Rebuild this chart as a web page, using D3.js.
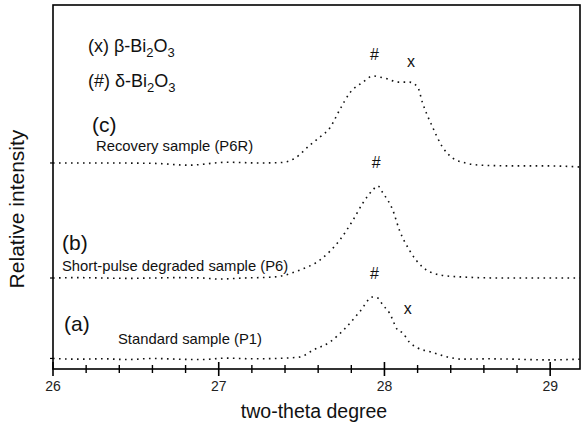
<!DOCTYPE html>
<html>
<head>
<meta charset="utf-8">
<script src="https://cdn.jsdelivr.net/npm/d3@7"></script>
<style>
  html, body { margin: 0; padding: 0; background: #fff; }
  svg { display: block; font-family: "Liberation Sans", Arial, sans-serif; }
</style>
</head>
<body>
<svg id="chart" width="582" height="428"></svg>
<script>
// ---- data (two-theta, relative intensity incl. vertical offset) ----
const seriesA = [ // (a) Standard sample (P1)
  [26.00, 2.9], [26.15, 2.7], [26.30, 2.8], [26.45, 2.6], [26.60, 2.9], [26.75, 2.7],
  [26.90, 2.6], [27.05, 3.0], [27.20, 2.8], [27.35, 2.9], [27.49, 3.3], [27.57, 5.2],
  [27.67, 7.4], [27.77, 11.5], [27.85, 15.7], [27.93, 19.8], [27.96, 19.5], [27.99, 17.6],
  [28.03, 15.4], [28.08, 10.7], [28.11, 9.9], [28.15, 7.4], [28.20, 5.8], [28.28, 4.7],
  [28.38, 3.3], [28.47, 2.7], [28.62, 2.8], [28.78, 2.7], [28.98, 2.5], [29.18, 2.7]
];
const seriesB = [ // (b) Short-pulse degraded sample (P6)
  [26.00, 25.0], [26.15, 25.1], [26.30, 25.0], [26.45, 24.9], [26.60, 25.0], [26.75, 25.1],
  [26.90, 25.0], [27.00, 24.7], [27.15, 25.0], [27.30, 25.2], [27.37, 25.5], [27.49, 27.2],
  [27.61, 29.9], [27.73, 35.4], [27.81, 40.9], [27.87, 45.6], [27.93, 49.2], [27.96, 50.3],
  [27.99, 48.4], [28.05, 43.7], [28.09, 38.2], [28.15, 32.7], [28.23, 28.0], [28.34, 25.8],
  [28.46, 25.3], [28.70, 25.0], [28.94, 25.0], [29.18, 25.0]
];
const seriesC = [ // (c) Recovery sample (P6R)
  [26.00, 56.6], [26.30, 56.6], [26.60, 56.5], [26.82, 56.0], [27.05, 56.8], [27.25, 56.6],
  [27.37, 56.7], [27.46, 57.9], [27.55, 61.5], [27.61, 63.7], [27.67, 66.2], [27.73, 71.2],
  [27.79, 75.8], [27.87, 78.8], [27.93, 80.5], [27.97, 80.2], [28.02, 79.7], [28.08, 78.8],
  [28.15, 78.8], [28.20, 77.5], [28.23, 73.1], [28.29, 66.5], [28.35, 61.0], [28.41, 58.0],
  [28.49, 56.6], [28.58, 56.0], [28.78, 55.8], [28.98, 55.8], [29.18, 55.5]
];
const baselines = [2.9, 25.0, 56.6];          // y-axis tick marks (one per trace)
const xTickLabels = [26, 27, 28, 29];
const xMinorTicks = [26.2, 26.4, 26.6, 26.8, 27.2, 27.4, 27.6, 27.8, 28.2, 28.4, 28.6, 28.8];
// peak markers: [two-theta, intensity, symbol]
const peakMarks = [
  [27.94, 85.0, "#"], [28.16, 83.0, "x"],
  [27.95, 55.3, "#"],
  [27.94, 24.8, "#"], [28.14, 15.2, "x"]
];
// sample labels: [label, letter]
const sampleLabels = [
  ["Standard sample (P1)", "(a)"],
  ["Short-pulse degraded sample (P6)", "(b)"],
  ["Recovery sample (P6R)", "(c)"]
];

// ---- layout ----
const svg = d3.select("#chart");
const M = { left: 53, right: 580, top: 5, bottom: 369 };
const x = d3.scaleLinear().domain([26, 29.18]).range([M.left, M.right]);
const y = d3.scaleLinear().domain([0, 100]).range([M.bottom, M.top]);

// frame
svg.append("rect")
  .attr("x", M.left).attr("y", M.top)
  .attr("width", M.right - M.left).attr("height", M.bottom - M.top)
  .attr("fill", "none").attr("stroke", "#000").attr("stroke-width", 1.6);

// x ticks (crossing the axis)
const g = svg.append("g");
g.selectAll("line.maj").data(xTickLabels).join("line")
  .attr("x1", d => x(d)).attr("x2", d => x(d))
  .attr("y1", M.bottom - 7).attr("y2", M.bottom + 7)
  .attr("stroke", "#000").attr("stroke-width", 1.6);
g.selectAll("line.min").data(xMinorTicks).join("line")
  .attr("x1", d => x(d)).attr("x2", d => x(d))
  .attr("y1", M.bottom - 4).attr("y2", M.bottom + 4)
  .attr("stroke", "#000").attr("stroke-width", 1.4);
g.selectAll("text.tl").data(xTickLabels).join("text")
  .attr("x", d => x(d)).attr("y", M.bottom + 22)
  .attr("text-anchor", "middle").attr("font-size", 14).attr("fill", "#222")
  .text(d => d);

// y ticks
svg.append("g").selectAll("line").data(baselines).join("line")
  .attr("x1", M.left - 3).attr("x2", M.left)
  .attr("y1", d => y(d)).attr("y2", d => y(d))
  .attr("stroke", "#000").attr("stroke-width", 1.2);

// axis titles
svg.append("text")
  .attr("x", 314).attr("y", 418)
  .attr("text-anchor", "middle").attr("font-size", 19.5).attr("fill", "#111")
  .text("two-theta degree");
svg.append("text")
  .attr("transform", "translate(24,209) rotate(-90)")
  .attr("text-anchor", "middle").attr("font-size", 21).attr("fill", "#111")
  .text("Relative intensity");

// traces
const line = d3.line().x(d => x(d[0])).y(d => y(d[1])).curve(d3.curveMonotoneX);
[seriesA, seriesB, seriesC].forEach(s => {
  svg.append("path").datum(s)
    .attr("d", line)
    .attr("fill", "none")
    .attr("stroke", "#111")
    .attr("stroke-width", 1.6)
    .attr("stroke-dasharray", "1.6,4.4");
});

// peak markers
svg.append("g").selectAll("text").data(peakMarks).join("text")
  .attr("x", d => x(d[0])).attr("y", d => y(d[1]))
  .attr("text-anchor", "middle").attr("font-size", 16).attr("fill", "#111")
  .text(d => d[2]);

// sample labels
const labelPos = [
  { lx: 64, ly: 331, sx: 118, sy: 344 },
  { lx: 62, ly: 250, sx: 62, sy: 271 },
  { lx: 92, ly: 132, sx: 96, sy: 151 }
];
sampleLabels.forEach((d, i) => {
  const p = labelPos[i];
  svg.append("text").attr("x", p.lx).attr("y", p.ly)
    .attr("font-size", 21).attr("fill", "#111").text(d[1]);
  svg.append("text").attr("x", p.sx).attr("y", p.sy)
    .attr("font-size", 14.8).attr("fill", "#111").text(d[0]);
});

// legend
function legend(yy, sym, greek) {
  const t = svg.append("text").attr("x", 88).attr("y", yy)
    .attr("font-size", 18).attr("fill", "#111");
  t.append("tspan").text("(" + sym + ") " + greek + "-Bi");
  t.append("tspan").attr("font-size", 13).attr("dy", 5).text("2");
  t.append("tspan").attr("dy", -5).text("O");
  t.append("tspan").attr("font-size", 13).attr("dy", 5).text("3");
}
legend(52, "x", "β");
legend(87, "#", "δ");
</script>
</body>
</html>
